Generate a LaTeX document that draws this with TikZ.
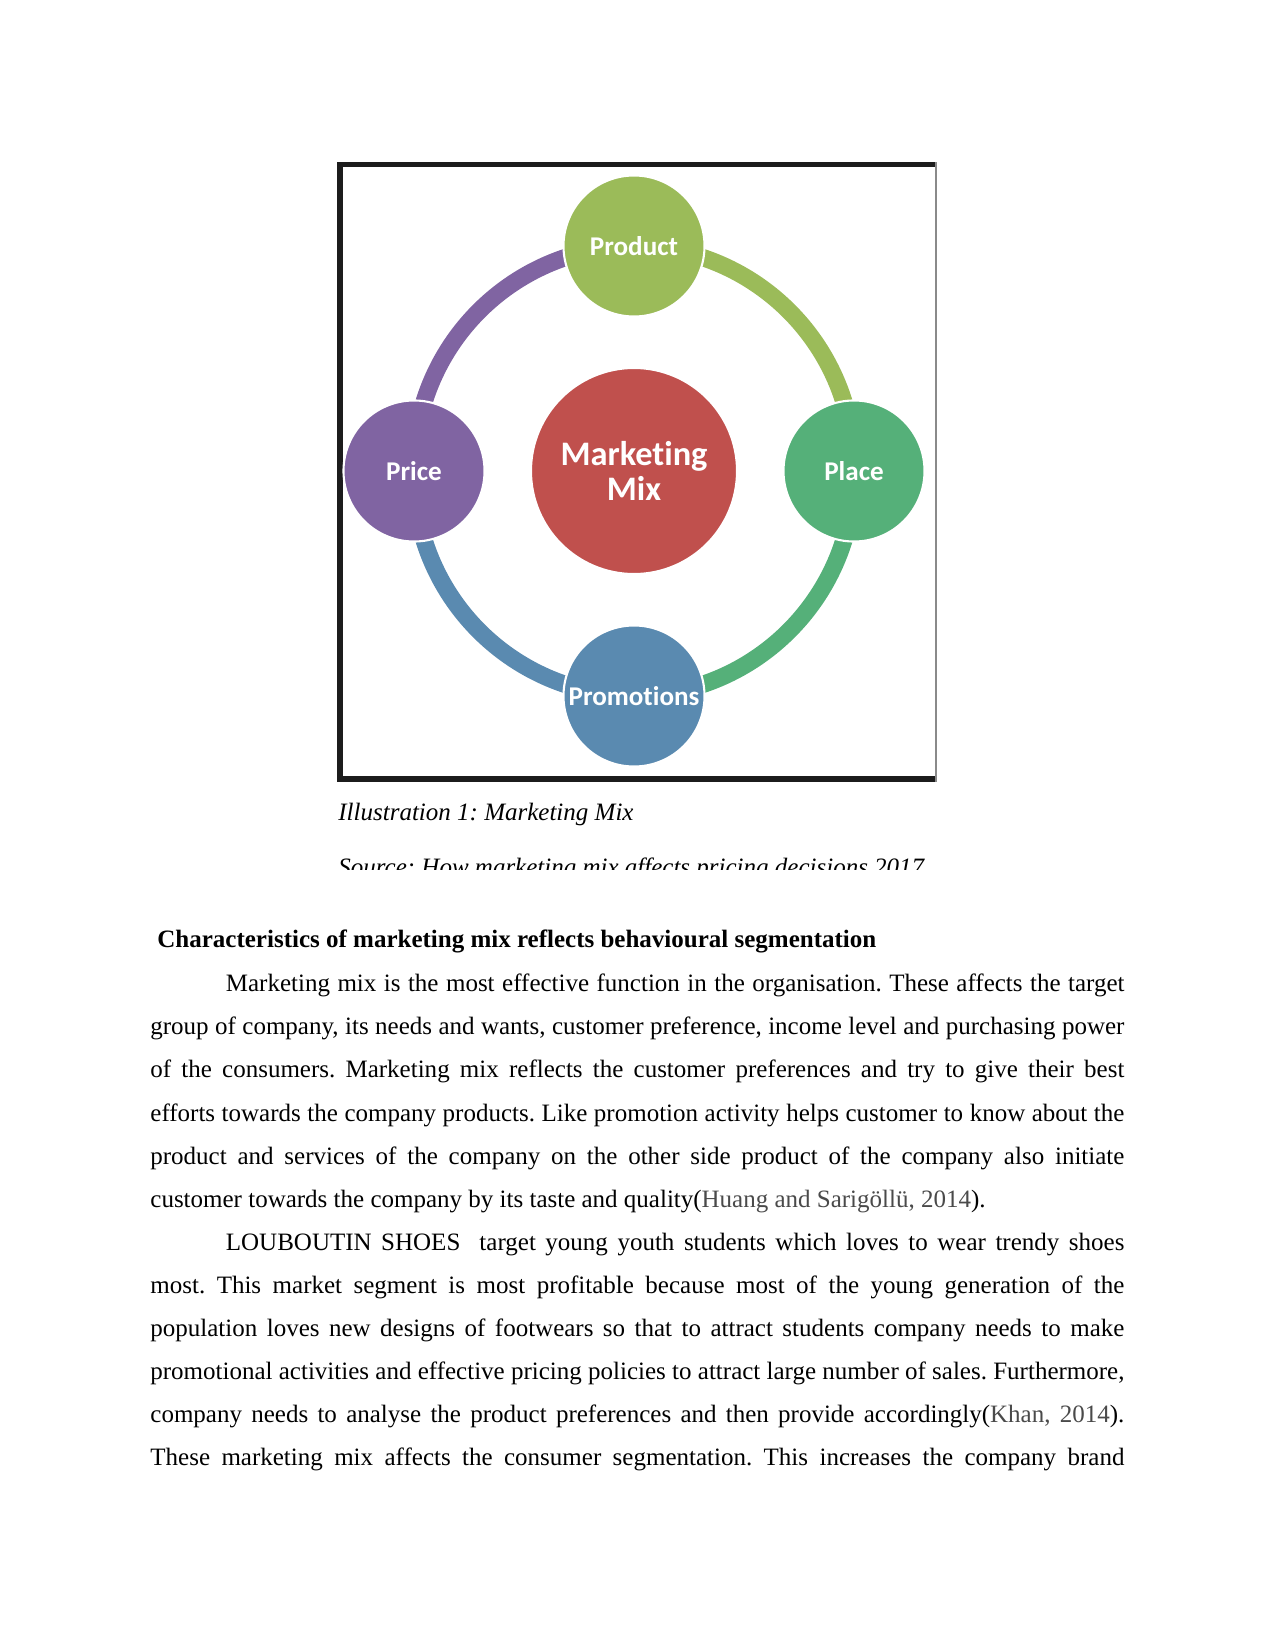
\documentclass[tikz,border=0pt]{standalone}
\usepackage{fontspec}
\setmainfont{Liberation Serif}
\newfontfamily\labelfont[Ligatures=NoCommon]{Carlito}
\usetikzlibrary{backgrounds}
\frenchspacing

\definecolor{productcol}{HTML}{9BBB59}
\definecolor{placecol}{HTML}{55B079}
\definecolor{promocol}{HTML}{5A8AB0}
\definecolor{pricecol}{HTML}{8064A2}
\definecolor{mixcol}{HTML}{C0504D}
\definecolor{framedark}{HTML}{1C1C1C}
\definecolor{framegray}{HTML}{8A8A8A}
\definecolor{citegray}{HTML}{4A4A4A}

\tikzset{
  mixitem/.style={circle, minimum size=67.7pt, inner sep=0pt, draw=white,
    line width=1pt, text=white, font=\labelfont\bfseries\fontsize{13}{14}\selectfont},
  mixcore/.style={mixitem, minimum size=98.9pt, align=center,
    font=\labelfont\bfseries\fontsize{16.5}{17}\selectfont},
  ringarc/.style={line width=8.3pt, bend left=45},
  bodyline/.style={anchor=base west, inner sep=0pt, font=\fontsize{12}{14}\selectfont},
}

\newcommand{\fullline}[1]{\makebox[467.5pt][s]{#1}}
\newcommand{\indentline}[1]{\makebox[431.3pt][s]{#1}}
\newcommand{\citetext}[1]{\textcolor{citegray}{#1}}

\begin{document}
\begin{tikzpicture}[x=0.48pt,y=-0.48pt]
  \useasboundingbox (0,0) rectangle (1275,1650);

  % picture frame
  \fill[framedark] (337,162) rectangle (936,167.5);
  \fill[framedark] (337,162) rectangle (342.5,782);
  \fill[framedark] (337,776) rectangle (936,782);
  \fill[framegray] (934.5,162) rectangle (937,782);

  % the four Ps round the mix
  \node[mixcore, fill=mixcol] (mix) at (634,471) {Marketing\\Mix};
  \node[mixitem, fill=productcol] (product) at (634,246) {Product};
  \node[mixitem, fill=placecol] (place) at (854,471) {Place};
  \node[mixitem, fill=promocol] (promotions) at (634,696) {Promotions};
  \node[mixitem, fill=pricecol] (price) at (414,471) {Price};

  \begin{scope}[on background layer]
    \draw[ringarc, pricecol] (price.center) to (product.center);
    \draw[ringarc, productcol] (product.center) to (place.center);
    \draw[ringarc, placecol] (place.center) to (promotions.center);
    \draw[ringarc, promocol] (promotions.center) to (price.center);
  \end{scope}

  % caption
  \node[bodyline, font=\itshape\fontsize{12}{14}\selectfont] (caption) at (338,820)
    {Illustration 1: Marketing Mix};
  \begin{scope}
    \clip (330,845) rectangle (945,869);
    \node[bodyline, font=\itshape\fontsize{12}{14}\selectfont] (source) at (338,875)
      {Source: How marketing mix affects pricing decisions 2017};
  \end{scope}

  % text below
  \node[bodyline, font=\bfseries\fontsize{12}{14}\selectfont] (heading) at (157,947.3)
    {Characteristics of marketing mix reflects behavioural segmentation};

  \node[bodyline] (l0) at (225.5,991.7) {\indentline{Marketing mix is the most effective function in the organisation. These affects the target}};
  \node[bodyline] (l1) at (150,1034.8) {\fullline{group of company, its needs and wants, customer preference, income level and purchasing power}};
  \node[bodyline] (l2) at (150,1077.9) {\fullline{of the consumers. Marketing mix reflects the customer preferences and try to give their best}};
  \node[bodyline] (l3) at (150,1121.0) {\fullline{efforts towards the company products. Like promotion activity helps customer to know about the}};
  \node[bodyline] (l4) at (150,1164.1) {\fullline{product and services of the company on the other side product of the company also initiate}};
  \node[bodyline] (l5) at (150,1207.2) {customer towards the company by its taste and quality(\citetext{Huang and Sarigöllü, 2014}).};

  \node[bodyline] (l6) at (225.5,1250.2) {\indentline{LOUBOUTIN SHOES\ \ target young youth students which loves to wear trendy shoes}};
  \node[bodyline] (l7) at (150,1293.3) {\fullline{most. This market segment is most profitable because most of the young generation of the}};
  \node[bodyline] (l8) at (150,1336.4) {\fullline{population loves new designs of footwears so that to attract students company needs to make}};
  \node[bodyline] (l9) at (150,1379.5) {\fullline{promotional activities and effective pricing policies to attract large number of sales. Furthermore,}};
  \node[bodyline] (l10) at (150,1422.6) {\fullline{company needs to analyse the product preferences and then provide accordingly(\citetext{Khan, 2014}).}};
  \node[bodyline] (l11) at (150,1465.7) {\fullline{These marketing mix affects the consumer segmentation. This increases the company brand}};
\end{tikzpicture}
\end{document}
